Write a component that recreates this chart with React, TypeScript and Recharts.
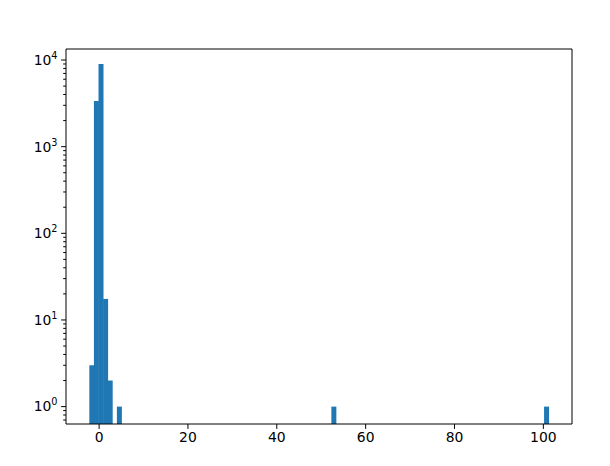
import React from "react";
import { ComposedChart, Bar, XAxis, YAxis } from "recharts";

// Histogram bins (centers) with non-zero counts
const binCenters = [-1.683, -0.649, 0.385, 1.419, 2.453, 4.521, 52.8, 100.68];
const binCounts = [3, 3360, 8970, 17.5, 2, 1, 1, 1];

const xTicks = [0, 20, 40, 60, 80, 100];
const yMajorTicks = [1, 10, 100, 1000, 10000];
const yMinorTicks = [
  0.7, 0.8, 0.9,
  2, 3, 4, 5, 6, 7, 8, 9,
  20, 30, 40, 50, 60, 70, 80, 90,
  200, 300, 400, 500, 600, 700, 800, 900,
  2000, 3000, 4000, 5000, 6000, 7000, 8000, 9000,
];
const yAllTicks = [...yMinorTicks, ...yMajorTicks].sort((a, b) => a - b);

const data = binCenters.map((x, i) => ({ x, count: binCounts[i] }));

const X_DOMAIN: [number, number] = [-7.45, 106.45];
const Y_DOMAIN: [number, number] = [0.63, 13400];

const FONT = "DejaVu Sans, sans-serif";

const YTick = (props: any) => {
  const { x, y, payload } = props;
  const v = payload.value;
  const isMajor = yMajorTicks.includes(v);
  const exp = Math.round(Math.log10(v));
  return (
    <g>
      <line x1={x - (isMajor ? 4.9 : 2.8)} x2={x} y1={y} y2={y} stroke="#000" strokeWidth={1} />
      {isMajor && (
        <text x={x - 8.5} y={y} textAnchor="end" fontFamily={FONT} fontSize={13.9} fill="#000" dy="0.35em">
          10
          <tspan dy={-6} fontSize={9.7}>{exp}</tspan>
        </text>
      )}
    </g>
  );
};

export default function App() {
  return (
    <div style={{ position: "absolute", left: 0, top: 0, background: "#fff" }}>
      <ComposedChart
        width={610}
        height={466}
        data={data}
        margin={{ top: 48, right: 37, bottom: 12, left: 8 }}
        barCategoryGap={0}
        barGap={0}
      >
        <XAxis
          dataKey="x"
          type="number"
          domain={X_DOMAIN}
          allowDataOverflow
          ticks={xTicks}
          height={30}
          tickSize={4.9}
          tickMargin={3}
          stroke="#000"
          tick={{ fill: "#000", fontSize: 13.9, fontFamily: FONT }}
        />
        <XAxis
          xAxisId="top"
          orientation="top"
          dataKey="x"
          type="number"
          domain={X_DOMAIN}
          allowDataOverflow
          tick={false}
          tickLine={false}
          height={1}
          stroke="#000"
        />
        <YAxis
          type="number"
          scale="log"
          domain={Y_DOMAIN}
          allowDataOverflow
          ticks={yAllTicks}
          width={58}
          tickSize={0}
          tickMargin={0}
          tickLine={false}
          stroke="#000"
          tick={<YTick />}
          interval={0}
        />
        <YAxis
          yAxisId="right"
          orientation="right"
          type="number"
          scale="log"
          domain={Y_DOMAIN}
          allowDataOverflow
          tick={false}
          tickLine={false}
          width={1}
          stroke="#000"
        />
        <Bar dataKey="count" fill="#1f77b4" isAnimationActive={false} />
      </ComposedChart>
    </div>
  );
}
